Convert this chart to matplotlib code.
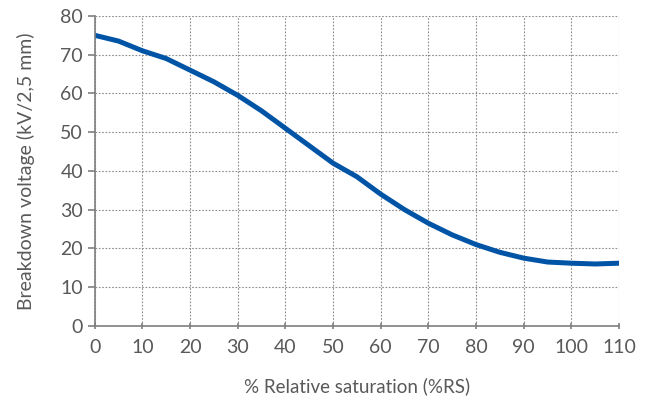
import numpy as np
import matplotlib
matplotlib.use("Agg")
import matplotlib.pyplot as plt

# Data
saturation = [0, 5, 10, 15, 20, 25, 30, 35, 40, 45, 50, 55, 60, 65, 70, 75, 80, 85, 90, 95, 100, 105, 110]
voltage = [75, 73.5, 71, 69, 66, 63, 59.5, 55.5, 51, 46.5, 42, 38.5, 34, 30, 26.5, 23.5, 21, 19, 17.5, 16.5, 16.2, 16, 16.2]

x_ticks = list(range(0, 111, 10))
y_ticks = list(range(0, 81, 10))

TEXT_COLOR = "#595959"
AXIS_COLOR = "#7f7f7f"
LINE_COLOR = "#0054a6"

plt.rcParams["font.family"] = ["Lato", "DejaVu Sans"]

fig = plt.figure(figsize=(6.49, 4.08), dpi=100)
ax = fig.add_axes([0.146, 0.201, 0.808, 0.760])

ax.plot(saturation, voltage, color=LINE_COLOR, lw=3.6,
        solid_capstyle="butt", solid_joinstyle="round")

ax.set_xlim(0, 110)
ax.set_ylim(0, 80)
ax.set_xticks(x_ticks)
ax.set_yticks(y_ticks)
ax.grid(True, color="#8c8c8c", linestyle=(0, (1.5, 1.5)), lw=0.8)

for side in ("top", "right"):
    ax.spines[side].set_visible(False)
for side in ("left", "bottom"):
    ax.spines[side].set_color(AXIS_COLOR)
    ax.spines[side].set_linewidth(1.2)

ax.tick_params(colors=AXIS_COLOR, labelcolor=TEXT_COLOR, labelsize=14, length=5, width=1.2)
ax.tick_params(axis="x", direction="inout", pad=7)
ax.tick_params(axis="y", direction="out")

ax.set_xlabel("% Relative saturation (%RS)", color=TEXT_COLOR, fontsize=13.5, labelpad=15)
ax.set_ylabel("Breakdown voltage (kV/2,5 mm)", color=TEXT_COLOR, fontsize=14, labelpad=18)

fig.savefig("out.png", dpi=100)
